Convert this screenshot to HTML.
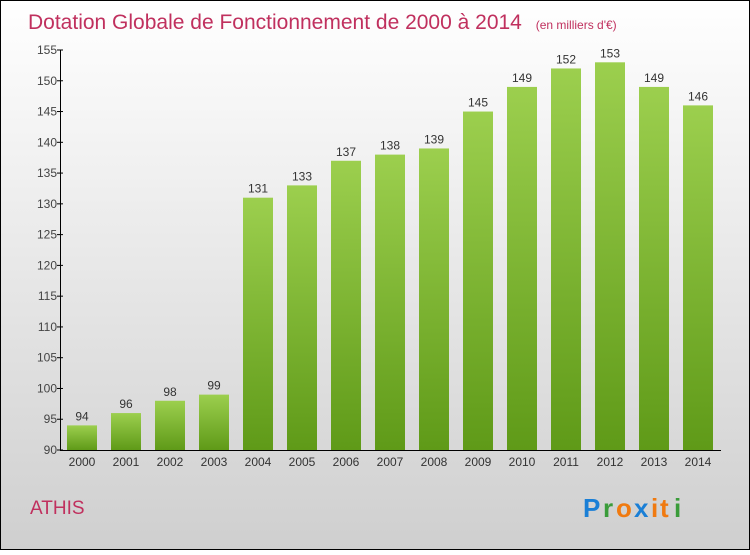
<!DOCTYPE html>
<html><head><meta charset="utf-8"><style>
body{margin:0;width:750px;height:550px;overflow:hidden}
</style></head><body>
<svg width="750" height="550" xmlns="http://www.w3.org/2000/svg">
<defs>
<linearGradient id="bg" x1="0" y1="0" x2="0" y2="1"><stop offset="0" stop-color="#ffffff"/><stop offset="1" stop-color="#cfcfcf"/></linearGradient>
<linearGradient id="bar" x1="0" y1="0" x2="0" y2="1"><stop offset="0" stop-color="#9ccf4e"/><stop offset="1" stop-color="#5f9a18"/></linearGradient>
</defs>
<rect x="0.5" y="0.5" width="749" height="549" fill="url(#bg)" stroke="#000"/>
<text x="28" y="29" font-family="Liberation Sans, sans-serif" font-size="21" fill="#c0305e">Dotation Globale de Fonctionnement de 2000 à 2014 <tspan font-size="12" dx="8">(en milliers d'€)</tspan></text>
<g id="plot"></g>
<text x="30" y="514" font-family="Liberation Sans, sans-serif" font-size="19" fill="#c0305e">ATHIS</text>
<g font-family="Liberation Sans, sans-serif" font-size="26" font-weight="bold">
<text x="583" y="517" fill="#1a7fd6">P</text><text x="603" y="517" fill="#3a9c3a">r</text><text x="616" y="517" fill="#f07a10">o</text><text x="634" y="517" fill="#1a7fd6">x</text><text x="651" y="517" fill="#f07a10">i</text><text x="660" y="517" fill="#f07a10">t</text><text x="674" y="517" fill="#3a9c3a">i</text>
</g>
</svg>
<script>
const categories=["2000","2001","2002","2003","2004","2005","2006","2007","2008","2009","2010","2011","2012","2013","2014"];
const values=[94,96,98,99,131,133,137,138,139,145,149,152,153,149,146];
const yTicks=[90,95,100,105,110,115,120,125,130,135,140,145,150,155];
const NS="http://www.w3.org/2000/svg";
const g=document.getElementById('plot');
const y=v=>450-(v-90)*(400/65);
const x=i=>82+i*44;
function el(t,a){const e=document.createElementNS(NS,t);for(const k in a)e.setAttribute(k,a[k]);g.appendChild(e);return e;}
categories.forEach((c,i)=>{
 const r=el('rect',{x:x(i)-15,y:y(values[i]),width:30,height:450-y(values[i]),fill:'url(#bar)'});
 
 
 const t=el('text',{x:x(i),y:y(values[i])-5,'text-anchor':'middle','font-family':'Liberation Sans, sans-serif','font-size':12,fill:'#333'});
 t.textContent=values[i];
 
 
 const l=el('text',{x:x(i),y:466,'text-anchor':'middle','font-family':'Liberation Sans, sans-serif','font-size':12,fill:'#333'});
 l.textContent=c;
 
 
});
yTicks.forEach(v=>{
 const tk=el('line',{x1:57,x2:63,y1:y(v),y2:y(v),stroke:'#000'});
 
 
 const t=el('text',{x:57,y:y(v)+4,'text-anchor':'end','font-family':'Liberation Sans, sans-serif','font-size':12,fill:'#444'});
 t.textContent=v;
 
 
});
const ya=el('line',{x1:60.5,x2:60.5,y1:y(155),y2:450,stroke:'#000'});


const xa=el('line',{x1:60,x2:721,y1:450.5,y2:450.5,stroke:'#000'});


</script>
</body></html>
